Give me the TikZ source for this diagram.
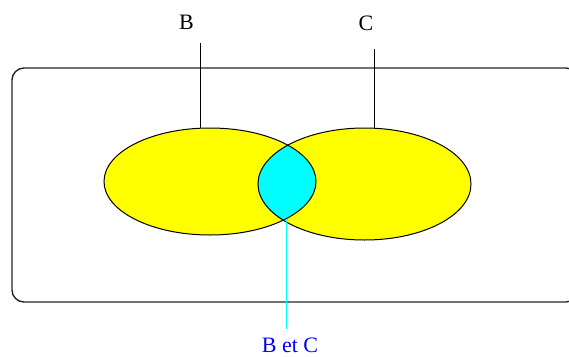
\documentclass[tikz,border=0pt]{standalone}
\usepackage{fontspec}
\setmainfont{Liberation Serif}
\definecolor{setyellow}{RGB}{255,255,0}
\definecolor{lenscyan}{RGB}{0,255,255}
\definecolor{labelblue}{RGB}{0,0,255}

\begin{document}
\begin{tikzpicture}[x=1pt,y=-1pt,
    lbl/.style={font=\fontsize{22}{26}\selectfont, inner sep=0pt},
    ring/.style={draw=black, line width=1pt}]
    \useasboundingbox (0,0) rectangle (569,356);

    % universe
    \draw[line width=1.4pt, draw=black!85, rounded corners=12pt] (12,68) rectangle (578,302);

    \coordinate (cB) at (210,181.5);
    \coordinate (cC) at (364.5,184);

    % the two sets
    \fill[setyellow] (cB) ellipse [x radius=106, y radius=53.5];
    \fill[setyellow] (cC) ellipse [x radius=106.5, y radius=56];
    \begin{scope}
        \clip (cB) ellipse [x radius=106, y radius=53.5];
        \fill[lenscyan] (cC) ellipse [x radius=106.5, y radius=56];
    \end{scope}
    \draw[ring] (cB) ellipse [x radius=106, y radius=53.5];
    \draw[ring] (cC) ellipse [x radius=106.5, y radius=56];

    \node[lbl] (labB) at (186.5,22) {B};
    \node[lbl] (labC) at (366,23) {C};
    \node[lbl, text=labelblue] (labBC) at (290,345) {B et C};

    \coordinate (topB) at (200,43);
    \coordinate (footB) at (200,128);
    \coordinate (topC) at (374,49);
    \coordinate (footC) at (374,128);
    \coordinate (lensbot) at (286,219);
    \coordinate (endBC) at (286,329);

    \draw[line width=1pt] (topB) -- (footB);
    \draw[line width=1pt] (topC) -- (footC);
    \draw[lenscyan, line width=1pt] (lensbot) -- (endBC);
\end{tikzpicture}
\end{document}
